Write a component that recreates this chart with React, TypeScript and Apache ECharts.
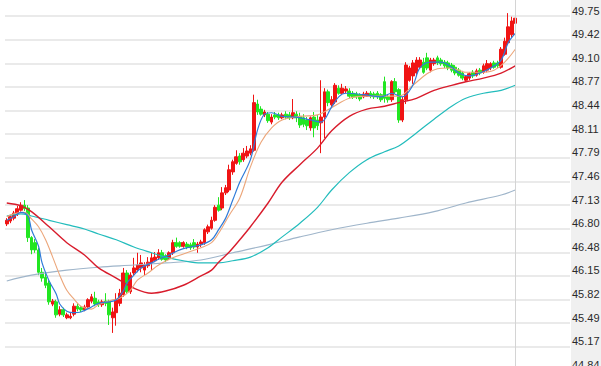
import React, { useEffect, useRef } from "react";
import * as echarts from "echarts";

// ---- candle data (open / close / low / high) ----
const opens = [
  46.87, 46.91, 46.95, 47.01, 47.06, 47.13, 47.09, 46.68, 46.61, 46.51,
  46.20, 46.13, 46.05, 45.76, 45.79, 45.62, 45.68, 45.57, 45.57, 45.62,
  45.73, 45.71, 45.68, 45.72, 45.80, 45.84, 45.79, 45.75, 45.80, 45.79,
  45.57, 45.64, 45.77, 45.89, 46.19, 45.93, 46.19, 46.23, 46.26, 46.23,
  46.29, 46.33, 46.36, 46.40, 46.47, 46.43, 46.40, 46.47, 46.61, 46.61,
  46.56, 46.59, 46.58, 46.61, 46.55, 46.59, 46.61, 46.76, 46.81, 46.92,
  47.13, 47.09, 47.30, 47.34, 47.59, 47.71, 47.81, 47.76, 47.81, 47.85,
  47.89, 48.53, 48.46, 48.38, 48.39, 48.28, 48.38, 48.38, 48.34, 48.39,
  48.38, 48.34, 48.39, 48.36, 48.34, 48.31, 48.20, 48.35, 48.31, 48.27,
  48.35, 48.70, 48.52, 48.56, 48.75, 48.68, 48.71, 48.71, 48.68, 48.67,
  48.66, 48.63, 48.64, 48.68, 48.67, 48.68, 48.66, 48.84, 48.63, 48.59,
  48.84, 48.73, 48.31, 48.59, 48.86, 48.92, 48.96, 49.04, 49.11, 49.17,
  49.00, 49.09, 49.17, 49.14, 49.11, 49.10, 49.07, 49.04, 49.00, 48.96,
  48.86, 48.89, 48.97, 48.93, 49.00, 48.97, 49.00, 49.03, 49.10, 49.10,
  49.04, 49.22, 49.38, 49.49, 49.65,
];
const closes = [
  46.92, 46.97, 47.02, 47.08, 47.13, 47.08, 46.68, 46.51, 46.51, 46.20,
  46.12, 46.02, 45.79, 45.80, 45.61, 45.68, 45.61, 45.61, 45.59, 45.73,
  45.69, 45.68, 45.72, 45.82, 45.86, 45.76, 45.75, 45.79, 45.77, 45.61,
  45.65, 45.82, 45.91, 46.19, 45.93, 46.16, 46.26, 46.30, 46.33, 46.30,
  46.34, 46.40, 46.41, 46.47, 46.38, 46.37, 46.47, 46.61, 46.56, 46.56,
  46.61, 46.55, 46.54, 46.55, 46.59, 46.62, 46.79, 46.83, 46.92, 47.10,
  47.06, 47.30, 47.37, 47.62, 47.73, 47.80, 47.73, 47.85, 47.88, 47.91,
  48.55, 48.42, 48.39, 48.42, 48.30, 48.35, 48.35, 48.34, 48.38, 48.35,
  48.34, 48.41, 48.34, 48.24, 48.25, 48.23, 48.34, 48.20, 48.23, 48.35,
  48.70, 48.55, 48.59, 48.79, 48.68, 48.75, 48.74, 48.64, 48.63, 48.63,
  48.60, 48.67, 48.68, 48.64, 48.63, 48.63, 48.59, 48.61, 48.59, 48.84,
  48.70, 48.31, 48.59, 49.07, 49.03, 49.10, 49.14, 49.14, 48.97, 49.03,
  49.14, 49.14, 49.10, 49.09, 49.06, 49.03, 49.00, 48.96, 48.93, 48.89,
  48.91, 48.95, 48.92, 48.99, 48.96, 49.06, 49.09, 49.09, 49.04, 49.06,
  49.29, 49.40, 49.60, 49.68, 49.72,
];
const lows = [
  46.84, 46.88, 46.92, 46.98, 47.04, 47.05, 46.62, 46.45, 46.47, 46.16,
  46.07, 45.98, 45.75, 45.73, 45.57, 45.59, 45.58, 45.55, 45.55, 45.59,
  45.66, 45.65, 45.66, 45.71, 45.77, 45.73, 45.72, 45.72, 45.73, 45.47,
  45.36, 45.46, 45.73, 45.86, 45.90, 45.90, 46.16, 46.20, 46.20, 46.16,
  46.26, 46.23, 46.34, 46.37, 46.36, 46.34, 46.37, 46.44, 46.54, 46.54,
  46.54, 46.52, 46.51, 46.52, 46.47, 46.55, 46.58, 46.73, 46.79, 46.90,
  47.04, 47.06, 47.27, 47.31, 47.55, 47.69, 47.69, 47.73, 47.78, 47.82,
  47.87, 48.38, 48.37, 48.35, 48.27, 48.25, 48.32, 48.31, 48.32, 48.32,
  48.31, 48.32, 48.28, 48.20, 48.21, 48.17, 48.16, 48.07, 48.17, 47.85,
  48.06, 48.50, 48.49, 48.53, 48.66, 48.66, 48.68, 48.61, 48.60, 48.60,
  48.57, 48.61, 48.63, 48.61, 48.60, 48.60, 48.56, 48.55, 48.55, 48.56,
  48.67, 48.27, 48.28, 48.53, 48.84, 48.81, 48.93, 49.02, 48.95, 49.00,
  48.97, 49.06, 49.07, 49.06, 49.03, 49.00, 48.97, 48.93, 48.91, 48.86,
  48.84, 48.86, 48.89, 48.91, 48.93, 48.95, 48.97, 49.00, 49.02, 49.03,
  49.02, 49.20, 49.35, 49.45, 49.60,
];
const highs = [
  46.95, 46.99, 47.05, 47.12, 47.17, 47.20, 47.13, 46.70, 46.66, 46.54,
  46.26, 46.19, 46.09, 45.83, 45.82, 45.73, 45.71, 45.64, 45.65, 45.77,
  45.77, 45.73, 45.75, 45.84, 45.90, 45.93, 45.82, 45.82, 45.91, 45.82,
  45.71, 45.91, 45.97, 46.26, 46.23, 46.20, 46.40, 46.47, 46.44, 46.34,
  46.41, 46.47, 46.48, 46.52, 46.51, 46.45, 46.49, 46.65, 46.68, 46.63,
  46.63, 46.62, 46.61, 46.66, 46.62, 46.65, 46.81, 46.86, 46.97, 47.13,
  47.24, 47.38, 47.41, 47.69, 47.76, 47.89, 47.85, 47.92, 47.95, 47.96,
  48.66, 48.59, 48.50, 48.45, 48.42, 48.39, 48.42, 48.41, 48.41, 48.43,
  48.42, 48.60, 48.43, 48.41, 48.39, 48.35, 48.36, 48.42, 48.38, 48.86,
  48.75, 48.73, 48.64, 48.82, 48.79, 48.81, 48.78, 48.75, 48.71, 48.70,
  48.68, 48.70, 48.71, 48.71, 48.70, 48.71, 48.68, 48.91, 48.66, 48.86,
  48.89, 48.75, 48.63, 49.11, 49.06, 49.14, 49.18, 49.18, 49.17, 49.24,
  49.17, 49.17, 49.20, 49.17, 49.14, 49.13, 49.10, 49.07, 49.03, 48.99,
  48.93, 48.97, 49.00, 49.02, 49.03, 49.09, 49.14, 49.11, 49.13, 49.13,
  49.32, 49.45, 49.79, 49.74, 49.82,
];

// ---- moving-average lines as [candle index, value] ----
const maFast = [
  [0, 46.92], [2, 46.97], [4, 47.03], [6, 46.98], [7, 46.79], [9, 46.56], [10, 46.33],
  [12, 46.08], [14, 45.9], [15, 45.76], [17, 45.66], [19, 45.64], [21, 45.65], [24, 45.72],
  [26, 45.77], [29, 45.79], [31, 45.82], [33, 45.94], [34, 46.05], [36, 46.16], [38, 46.26],
  [41, 46.33], [43, 46.38], [46, 46.44], [49, 46.51], [52, 46.55], [55, 46.58], [58, 46.65],
  [60, 46.79], [62, 46.95], [64, 47.2], [66, 47.45], [69, 47.76], [71, 48.17], [73, 48.39],
  [75, 48.41], [78, 48.36], [82, 48.35], [86, 48.31], [89, 48.28], [92, 48.49], [94, 48.63],
  [96, 48.68], [101, 48.66], [106, 48.63], [109, 48.68], [112, 48.63], [115, 48.79],
  [117, 49.03], [120, 49.11], [123, 49.11], [126, 49.04], [128, 48.96], [131, 48.92],
  [134, 48.96], [137, 49.03], [140, 49.14], [142, 49.38], [144, 49.51],
];
const maTan = [
  [0, 46.97], [2, 47.01], [5, 47.03], [7, 46.94], [9, 46.83], [11, 46.65], [13, 46.41],
  [15, 46.16], [17, 45.95], [19, 45.83], [21, 45.73], [24, 45.69], [26, 45.75], [30, 45.82],
  [32, 45.84], [35, 45.95], [37, 46.09], [40, 46.19], [43, 46.3], [47, 46.4], [51, 46.47],
  [55, 46.54], [58, 46.61], [60, 46.74], [63, 46.99], [66, 47.23], [69, 47.66], [72, 48.0],
  [75, 48.2], [78, 48.31], [83, 48.36], [88, 48.38], [92, 48.48], [97, 48.61], [102, 48.64],
  [107, 48.64], [111, 48.64], [115, 48.79], [119, 48.95], [122, 49.02], [125, 49.03],
  [128, 49.0], [130, 48.97], [134, 48.97], [138, 49.0], [141, 49.11], [144, 49.29],
];
const maRed = [
  [0, 47.16], [4, 47.12], [7, 47.04], [12, 46.83], [17, 46.61], [22, 46.44], [26, 46.26],
  [31, 46.12], [36, 45.98], [41, 45.91], [45, 45.94], [50, 46.02], [55, 46.15], [58, 46.23],
  [60, 46.34], [63, 46.48], [66, 46.65], [69, 46.83], [74, 47.16], [78, 47.45], [83, 47.69],
  [88, 47.92], [92, 48.16], [97, 48.36], [102, 48.46], [107, 48.5], [111, 48.55], [116, 48.61],
  [121, 48.72], [126, 48.79], [130, 48.84], [135, 48.89], [140, 48.96], [144, 49.06],
];
const maTeal = [
  [0, 46.98], [4, 47.01], [7, 46.98], [12, 46.92], [17, 46.86], [22, 46.8], [26, 46.73],
  [31, 46.65], [36, 46.55], [41, 46.47], [45, 46.41], [50, 46.36], [55, 46.33], [60, 46.33],
  [64, 46.36], [69, 46.41], [74, 46.54], [78, 46.69], [83, 46.88], [88, 47.1], [92, 47.34],
  [97, 47.58], [102, 47.76], [107, 47.87], [111, 47.95], [116, 48.13], [121, 48.32],
  [126, 48.5], [130, 48.61], [135, 48.68], [140, 48.72], [144, 48.79],
];
const maSlow = [
  [0, 46.08], [7, 46.16], [17, 46.23], [26, 46.27], [36, 46.3], [45, 46.33], [55, 46.37],
  [64, 46.47], [74, 46.58], [83, 46.69], [92, 46.79], [102, 46.88], [111, 46.95],
  [121, 47.04], [130, 47.16], [140, 47.27], [144, 47.34],
];

// ---- axes ----
const SLOT_COUNT = 160; // candles plus empty room on the right
const categories = Array.from({ length: SLOT_COUNT }, (_, i) => `K${i + 1}`);
const yTopTick = 49.75;
const yBottomTick = 44.84;
const yTickSteps = 15;
const currentIndex = opens.length - 1;

export default function App() {
  const ref = useRef<HTMLDivElement>(null);

  useEffect(() => {
    if (!ref.current) return;
    const chart = echarts.init(ref.current, null, { renderer: "svg" });
    const step = (yTopTick - yBottomTick) / yTickSteps;
    const stepPx = 23.63;
    const topGridY = 16;
    const candles = opens.map((o, i) => [o, closes[i], lows[i], highs[i]]);
    const lineSeries = (data: number[][], color: string, width = 1.1) => ({
      type: "line",
      data,
      showSymbol: false,
      symbol: "none",
      smooth: 0.35,
      silent: true,
      lineStyle: { color, width },
      z: 3,
    });

    chart.setOption({
      animation: false,
      backgroundColor: "#ffffff",
      graphic: [
        {
          type: "rect",
          z: -10,
          shape: { x: 571, y: 0, width: 30, height: 366 },
          style: { fill: "#f0f0f0" },
        },
      ],
      grid: {
        left: 5,
        right: 31,
        top: topGridY - stepPx,
        bottom: 366 - (topGridY + (yTickSteps + 1) * stepPx),
        containLabel: false,
        outerBoundsMode: "none",
      },
      xAxis: {
        type: "category",
        data: categories,
        boundaryGap: true,
        axisLine: { show: false },
        axisTick: { show: false },
        axisLabel: { show: false },
        splitLine: { show: false },
      },
      yAxis: {
        type: "value",
        position: "right",
        min: yBottomTick - step,
        max: yTopTick + step,
        interval: step,
        axisLine: { show: false },
        axisTick: { show: false },
        splitLine: { lineStyle: { color: "#e3e3e3", width: 1.5 } },
        axisLabel: {
          color: "#2a2a2a",
          fontFamily: "Liberation Sans",
          fontSize: 11,
          margin: 2,
          verticalAlign: "bottom",
          showMaxLabel: false,
          showMinLabel: false,
          formatter: (v: number) => v.toFixed(2),
        },
      },
      series: [
        {
          type: "candlestick",
          data: candles,
          barWidth: "92%",
          itemStyle: {
            color: "#f01414",
            color0: "#22e622",
            borderColor: "#f01414",
            borderColor0: "#22e622",
            borderWidth: 1,
          },
          markLine: {
            silent: true,
            symbol: ["none", "none"],
            label: { show: false },
            lineStyle: { color: "#d4d4d4", type: "solid", width: 1 },
            data: [{ xAxis: currentIndex }],
          },
        },
        lineSeries(maSlow, "#9fb5ca"),
        lineSeries(maTeal, "#22bcbc", 1.2),
        lineSeries(maRed, "#d81c2c", 1.4),
        lineSeries(maTan, "#eca67a"),
        lineSeries(maFast, "#2f7bd8", 1.2),
      ],
    });
    return () => chart.dispose();
  }, []);

  return (
    <div
      ref={ref}
      style={{ position: "fixed", left: 0, top: 0, width: 601, height: 366 }}
    />
  );
}
